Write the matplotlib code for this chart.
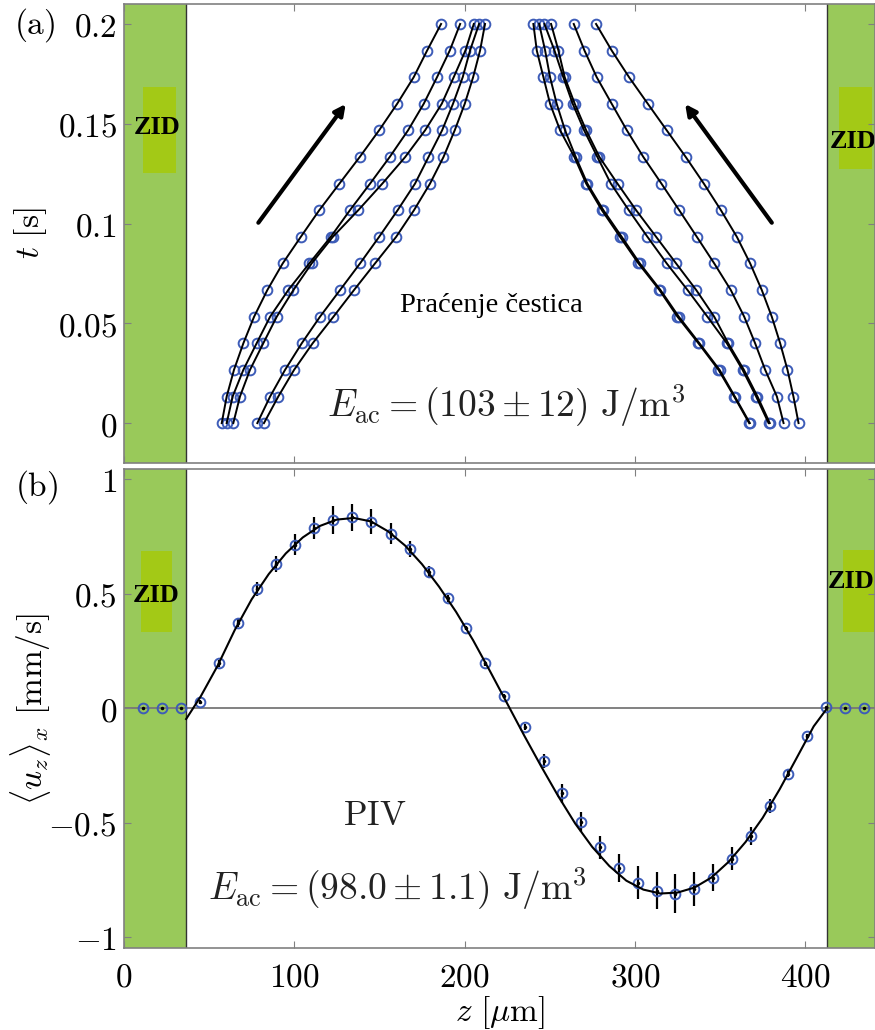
import matplotlib
matplotlib.use('Agg')
import matplotlib.pyplot as plt
from matplotlib.patches import Rectangle

plt.rcParams['mathtext.fontset'] = 'cm'
plt.rcParams['font.family'] = ['DejaVu Sans']

# channel walls (um)
wall_left = 36.5
wall_right = 413.0
z_max = 441.0

# (a) particle tracking: frame times and z positions of each particle
t_frames = [0.0, 0.0133, 0.0267, 0.04, 0.0533, 0.0667, 0.08, 0.0933,
            0.1067, 0.12, 0.1333, 0.1467, 0.16, 0.1733, 0.1867, 0.2]

left_tracks = [
    [57.4, 60.3, 64.6, 70.1, 76.4, 84.2, 93.2, 103.8, 114.7, 126.5, 138.4, 149.8, 160.4, 170.1, 178.0, 186.2],
    [60.3, 63.8, 70.1, 77.9, 85.8, 96.5, 108.8, 121.4, 132.7, 144.5, 156.0, 166.8, 176.0, 183.8, 191.3, 197.4],
    [64.2, 68.1, 74.0, 81.8, 89.7, 99.5, 110.2, 122.6, 137.6, 151.7, 165.1, 176.8, 186.6, 193.6, 200.5, 205.4],
    [78.3, 85.8, 94.6, 104.4, 115.1, 126.9, 138.6, 149.8, 160.7, 170.9, 178.8, 186.8, 193.2, 198.9, 203.2, 208.5],
    [82.2, 90.6, 99.9, 110.8, 123.0, 135.1, 147.4, 159.8, 170.3, 179.7, 187.6, 194.2, 200.1, 205.0, 209.1, 212.0],
]
right_tracks = [
    [367.1, 358.3, 349.1, 337.3, 325.0, 314.4, 302.1, 291.3, 280.6, 271.4, 264.5, 256.1, 250.2, 246.3, 242.4, 240.4],
    [367.5, 358.7, 349.7, 337.9, 325.8, 315.0, 302.9, 292.3, 281.5, 272.1, 265.3, 259.0, 254.1, 250.2, 247.3, 243.8],
    [378.5, 371.2, 363.2, 354.0, 342.6, 330.9, 318.7, 307.4, 296.4, 285.9, 278.0, 270.2, 263.5, 258.0, 252.8, 246.9],
    [379.2, 372.0, 364.0, 354.8, 346.6, 336.0, 324.2, 312.5, 300.7, 289.8, 279.2, 271.4, 264.7, 258.8, 255.1, 250.8],
    [387.3, 383.4, 376.5, 370.6, 364.2, 356.3, 346.6, 336.4, 326.0, 315.6, 305.0, 295.3, 286.4, 277.6, 270.4, 264.1],
    [396.1, 393.1, 389.6, 385.3, 380.4, 374.5, 367.7, 359.9, 350.5, 340.5, 329.9, 318.7, 307.6, 296.6, 286.4, 277.2],
]

# (b) PIV profile
z_piv = [11.0, 22.4, 33.5, 44.9, 55.7, 66.9, 78.3, 89.4, 100.4, 111.8, 123.0, 134.0, 145.3,
         156.7, 167.9, 179.1, 190.2, 201.0, 212.1, 223.4, 235.2, 246.5, 257.4, 268.4, 279.5,
         290.4, 301.6, 312.7, 323.6, 334.8, 345.9, 356.8, 368.0, 379.1, 390.0, 401.2, 412.3,
         423.2, 434.4]
u_piv = [0, 0, 0, 0.027, 0.195, 0.373, 0.519, 0.627, 0.714, 0.786, 0.821, 0.833, 0.813,
         0.762, 0.694, 0.595, 0.479, 0.349, 0.195, 0.052, -0.083, -0.230, -0.373, -0.497, -0.608,
         -0.698, -0.762, -0.798, -0.810, -0.790, -0.741, -0.659, -0.560, -0.429, -0.286, -0.122, 0.003,
         0, 0]
u_err = [0, 0, 0, 0.01, 0.015, 0.02, 0.03, 0.035, 0.045, 0.05, 0.06, 0.06, 0.055,
         0.045, 0.035, 0.025, 0.015, 0.01, 0.01, 0.01, 0.015, 0.03, 0.04, 0.045, 0.05,
         0.06, 0.07, 0.08, 0.085, 0.075, 0.06, 0.05, 0.04, 0.03, 0.015, 0.01, 0,
         0, 0]
z_fit = [36.5, 45, 55, 65, 75, 85, 95, 105, 115, 125, 135, 145, 155, 165, 175, 185, 195, 205,
         215, 225, 235, 245, 255, 265, 275, 285, 295, 305, 315, 325, 335, 345, 355, 365, 375,
         385, 395, 405, 413]
u_fit = [-0.048, 0.05, 0.185, 0.34, 0.475, 0.585, 0.675, 0.745, 0.795, 0.823, 0.830, 0.815,
         0.772, 0.71, 0.628, 0.53, 0.42, 0.296, 0.16, 0.02, -0.12, -0.255, -0.385, -0.505,
         -0.607, -0.69, -0.754, -0.793, -0.810, -0.806, -0.784, -0.74, -0.672, -0.585, -0.48,
         -0.355, -0.218, -0.08, 0.0]

x_ticks = [0, 100, 200, 300, 400]
x_ticklabels = ['$0$', '$100$', '$200$', '$300$', '$400$']
t_ticks = [0, 0.05, 0.1, 0.15, 0.2]
t_ticklabels = ['$0$', '$0.05$', '$0.1$', '$0.15$', '$0.2$']
u_ticks = [-1, -0.5, 0, 0.5, 1]
u_ticklabels = ['$-1$', '$-0.5$', '$0$', '$0.5$', '$1$']

wall_green = '#99c95a'
zid_green = '#a3c916'
blue = '#3d5cb8'
frame = '#808080'
serif = ['Liberation Serif', 'DejaVu Serif']
fs = 24


def setup(ax, ylim, yticks, ylabels):
    ax.set_xlim(0, z_max)
    ax.set_ylim(*ylim)
    ax.set_xticks(x_ticks)
    ax.set_yticks(yticks)
    ax.set_yticklabels(ylabels, fontsize=fs)
    ax.tick_params(direction='in', length=5, color=frame, top=True, right=True, pad=5)
    ax.tick_params(axis='x', pad=9)
    for s in ax.spines.values():
        s.set_color(frame)
        s.set_linewidth(1.2)
    ax.axvspan(0, wall_left, color=wall_green, zorder=0, lw=0)
    ax.axvspan(wall_right, z_max + 20, color=wall_green, zorder=0, lw=0)
    ax.axvline(wall_left, color='#333333', lw=1.0, zorder=1)
    ax.axvline(wall_right, color='#333333', lw=1.0, zorder=1)


def zid(ax, x0, x1, y0, y1, tx, ty):
    ax.add_patch(Rectangle((x0, y0), x1 - x0, y1 - y0, color=zid_green, lw=0, zorder=0.5))
    ax.text(tx, ty, 'ZID', family=serif, weight='bold', fontsize=19,
            ha='center', va='center', zorder=2)


fig = plt.figure(figsize=(8.75, 10.3), dpi=100)

# ---- (a) particle tracking
ax1 = fig.add_axes([0.1417, 0.5505, 0.8583, 0.4456])
setup(ax1, (-0.02, 0.21), t_ticks, t_ticklabels)
ax1.set_xticklabels([])
zid(ax1, 11.0, 30.4, 0.1253, 0.1684, 19.5, 0.148)
zid(ax1, 420.0, 439.5, 0.1273, 0.1684, 428.0, 0.141)

for tr in left_tracks + right_tracks:
    ax1.plot(tr, t_frames, 'o', mfc='none', mec=blue, mew=1.4, ms=7, zorder=3)
    ax1.plot(tr, t_frames, '-', color='k', lw=1.4, zorder=4)

ax1.annotate('', xy=(130.2, 0.1599), xytext=(78.9, 0.1004),
             arrowprops=dict(arrowstyle='-|>', lw=3, color='k', mutation_scale=16,
                             shrinkA=0, shrinkB=0))
ax1.annotate('', xy=(329.5, 0.1599), xytext=(380.4, 0.1004),
             arrowprops=dict(arrowstyle='-|>', lw=3, color='k', mutation_scale=16,
                             shrinkA=0, shrinkB=0))
ax1.text(215.9, 0.059, 'Praćenje čestica', family=serif, fontsize=20.5,
         ha='center', va='center')
ax1.text(224.4, 0.009, r'$E_{\rm ac} = (103 \pm 12)\ {\rm J/m^3}$', fontsize=27,
         ha='center', va='center', color='#222222')
ax1.set_ylabel(r'$t\ [\mathrm{s}]$', fontsize=fs)
ax1.yaxis.label.set_va('center')
ax1.yaxis.set_label_coords(-0.124, 0.5)

# ---- (b) PIV
ax2 = fig.add_axes([0.1417, 0.0796, 0.8583, 0.4651])
setup(ax2, (-1.048, 1.044), u_ticks, u_ticklabels)
ax2.set_xticklabels(x_ticklabels, fontsize=fs)
zid(ax2, 9.8, 28.2, 0.332, 0.686, 18.8, 0.49)
zid(ax2, 422.5, 440.5, 0.333, 0.69, 427.0, 0.552)
ax2.axhline(0, color='#777777', lw=1.3, zorder=1)
ax2.errorbar(z_piv, u_piv, yerr=u_err, fmt='none', ecolor='k', elinewidth=1.6,
             capsize=0, zorder=3)
ax2.plot(z_piv, u_piv, 'o', mfc='none', mec=blue, mew=1.4, ms=7, zorder=4)
ax2.plot(z_piv, u_piv, '.', color='k', ms=3, zorder=5)
ax2.plot(z_fit, u_fit, '-', color='k', lw=1.5, zorder=5)
ax2.text(147.4, -0.465, r'$\mathrm{PIV}$', fontsize=25, ha='center', va='center',
         color='#222222')
ax2.text(160.6, -0.79, r'$E_{\rm ac} = (98.0 \pm 1.1)\ {\rm J/m^3}$', fontsize=27,
         ha='center', va='center', color='#222222')
ax2.set_ylabel(r'$\langle u_z \rangle_x\ [\mathrm{mm/s}]$', fontsize=fs)
ax2.yaxis.label.set_va('center')
ax2.yaxis.set_label_coords(-0.124, 0.5)
ax2.set_xlabel(r'$z\ [\mu\mathrm{m}]$', fontsize=fs)
ax2.xaxis.label.set_va('center')
ax2.xaxis.set_label_coords(0.5, -0.134)

fig.text(35 / 875, 1 - 25 / 1030, r'$\mathrm{(a)}$', fontsize=fs, ha='center', va='center')
fig.text(37 / 875, 1 - 487 / 1030, r'$\mathrm{(b)}$', fontsize=fs, ha='center', va='center')

fig.savefig('out.png', dpi=100)
